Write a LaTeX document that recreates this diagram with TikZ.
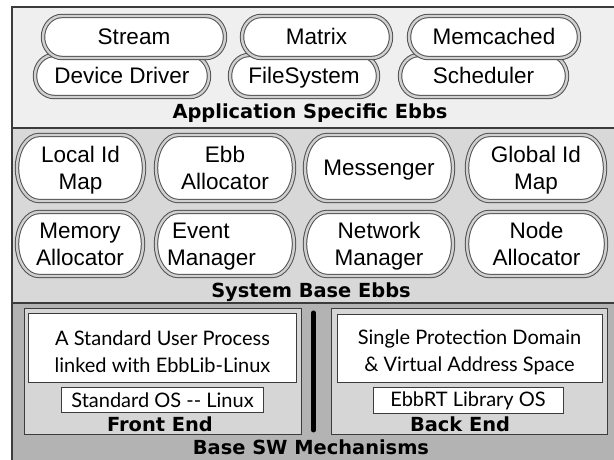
\documentclass[tikz,border=0pt]{standalone}
\usepackage{fontspec}
\setmainfont{Liberation Sans}
\newfontfamily\gillfont{Lato}
\newfontfamily\titlefont{DejaVu Sans}
\definecolor{paneltop}{HTML}{EFEFEF}
\definecolor{panelmid}{HTML}{D8D8D8}
\definecolor{panelbot}{HTML}{B3B3B3}
\definecolor{framefill}{HTML}{D6D6D6}
\definecolor{edge}{HTML}{3C3C3C}
\definecolor{ebbdark}{HTML}{505050}
\definecolor{ebbgap}{HTML}{D0D0D0}
\tikzset{
  panel/.style={draw=edge, line width=1.5bp},
  ebbline/.style={draw=ebbdark, line width=1bp, double=ebbgap, double distance=2.4bp, fill=white},
  ebbtext/.style={font=\fontsize{22.5bp}{26.5bp}\selectfont, align=center, inner sep=0pt},
  layertitle/.style={font=\titlefont\bfseries\fontsize{19.4bp}{22bp}\selectfont, inner sep=0pt, anchor=base},
  framebox/.style={draw=edge, line width=1bp, fill=framefill},
  whitebox/.style={draw=edge, line width=1bp, fill=white, inner sep=0pt},
  boxtext/.style={font=\gillfont\fontsize{20bp}{27bp}\selectfont, align=center},
}
% #1 name, #2 left x, #3 top y (image), #4 right x, #5 bottom y (image), #6 end radius, #7 text
\newcommand\ebbbox[7]{%
  \pgfmathsetmacro\ebbL{#2+2}\pgfmathsetmacro\ebbR{#4-2}%
  \pgfmathsetmacro\ebbT{460-#3-2}\pgfmathsetmacro\ebbB{460-#5+2}%
  \pgfmathsetmacro\ebbRy{(\ebbT-\ebbB)/2}%
  \draw[ebbline] (\ebbL+#6,\ebbT) -- (\ebbR-#6,\ebbT)
    arc[start angle=90,end angle=-90,x radius=#6,y radius=\ebbRy]
    -- (\ebbL+#6,\ebbB)
    arc[start angle=270,end angle=90,x radius=#6,y radius=\ebbRy] -- cycle;
  \node[ebbtext] (#1) at ({(#2+#4)/2},{460-(#3+#5)/2-2.7}) {#7};
}
\begin{document}
\begin{tikzpicture}[x=1bp,y=1bp]
\useasboundingbox (0,0) rectangle (614,460);
\fill[white] (0,0) rectangle (614,460);
\clip (0,0) rectangle (614,460);
% layers
\draw[panel, fill=paneltop] (12,453) rectangle (630,332);
\draw[panel, fill=panelmid] (12,332) rectangle (630,157);
\draw[panel, fill=panelbot] (12,157) rectangle (630,-20);

% application specific ebbs
\ebbbox{devdrv}{33}{53}{211}{99}{19}{\strut Device Driver}
\ebbbox{filesys}{228}{53}{380}{99}{19}{\strut FileSystem}
\ebbbox{sched}{398}{53}{569}{99}{19}{\strut Scheduler}
\ebbbox{stream}{41}{14}{227}{60}{19}{\strut Stream}
\ebbbox{matrix}{240}{14}{393}{60}{19}{\strut Matrix}
\ebbbox{memc}{407}{14}{581}{60}{19}{\strut Memcached}
\node[layertitle] (apptitle) at (310,341) {Application Specific Ebbs};

% system base ebbs
\ebbbox{localid}{15}{133}{146}{203}{22}{\strut Local Id\\\strut Map}
\ebbbox{ebballoc}{154}{133}{296}{203}{22}{\strut Ebb\\\strut Allocator}
\ebbbox{messenger}{303}{133}{455}{203}{22}{\strut Messenger}
\ebbbox{globalid}{465}{133}{607}{203}{22}{\strut Global Id\\\strut Map}
\ebbbox{memalloc}{15}{210}{145}{278}{22}{\strut Memory\\\strut Allocator}
\ebbbox{eventmgr}{154}{210}{296}{278}{22}{}
\node[ebbtext, align=left, anchor=west] (eventtxt) at (167,{460-244-2.7}) {\strut\hspace*{5bp}Event\\\strut Manager};
\ebbbox{netmgr}{303}{210}{455}{278}{22}{\strut Network\\\strut Manager}
\ebbbox{nodealloc}{465}{210}{608}{278}{22}{\strut Node\\\strut Allocator}
\node[layertitle] (systitle) at (311,162) {System Base Ebbs};

% base sw mechanisms
\draw[framebox] (24,151) rectangle (301,25);
\draw[framebox] (331,151) rectangle (607,25);
\node[whitebox, minimum width=267bp, minimum height=69bp] (userproc) at (162.5,111.5) {};
\node[boxtext] (userproctxt) at ([yshift=-3bp]userproc.center) {A Standard User Process\\linked with EbbLib-Linux};
\node[whitebox, minimum width=265bp, minimum height=68bp] (domain) at (469.5,111) {};
\node[boxtext] (domaintxt) at ([yshift=-3bp]domain.center) {Single Protection Domain\\\& Virtual Address Space};
\node[whitebox, minimum width=201bp, minimum height=25bp] (stdos) at (162.5,59.5) {};
\node[boxtext] (stdostxt) at (stdos.center) {Standard OS -{}- Linux};
\node[whitebox, minimum width=190bp, minimum height=26bp] (ebbrt) at (468,59) {};
\node[boxtext] (ebbrttxt) at (ebbrt.center) {EbbRT Library OS};
\coordinate (bartop) at (313.5,147);
\coordinate (barbot) at (313.5,30);
\draw[line width=5bp, line cap=round] (bartop) -- (barbot);
\node[layertitle] (fronttitle) at (160,28) {Front End};
\node[layertitle] (backtitle) at (460,28) {Back End};
\node[layertitle] (basetitle) at (311,5) {Base SW Mechanisms};
\end{tikzpicture}
\end{document}
